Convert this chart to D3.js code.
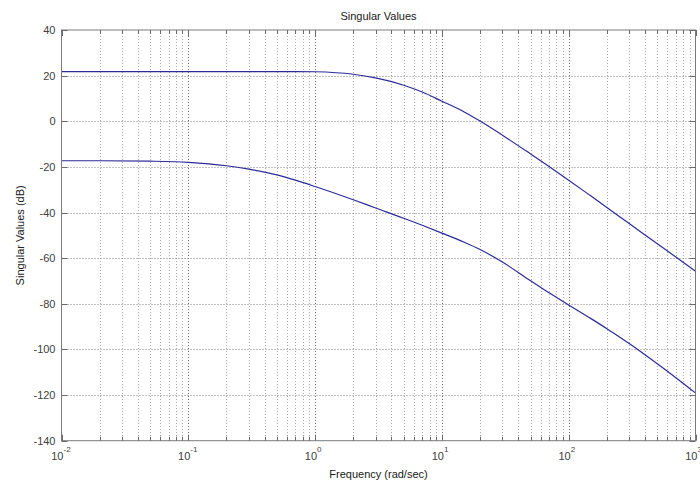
<!DOCTYPE html>
<html>
<head>
<meta charset="utf-8">
<script src="https://cdn.jsdelivr.net/npm/d3@7"></script>
<style>
html,body{margin:0;padding:0;background:#fff;overflow:hidden;}
text{font-family:"Liberation Sans",Arial,sans-serif;}
</style>
</head>
<body>
<svg id="c" width="700" height="485"></svg>
<script>
const freq = [0.01,0.02,0.05,0.1,0.2,0.3,0.5,0.7,1,2,3,5,7,10,15,20,30,50,70,100,150,200,300,500,700,1000];
const sv1  = [21.8,21.8,21.8,21.8,21.8,21.8,21.8,21.8,21.7,20.6,19.0,15.8,12.8,8.8,4.1,0.1,-6.1,-14.3,-19.8,-25.8,-32.8,-37.8,-44.8,-53.7,-59.5,-65.7];
const sv2  = [-17.3,-17.3,-17.5,-18.0,-19.5,-21.0,-23.5,-25.8,-28.6,-34.4,-38.0,-42.5,-45.6,-49.0,-53.0,-56.2,-61.7,-69.9,-75.2,-80.5,-86.5,-90.9,-97.4,-106.3,-112.4,-119.1];
const yTicks = [40,20,0,-20,-40,-60,-80,-100,-120,-140];
const xDecades = [-2,-1,0,1,2,3];
const titleText = "Singular Values";
const xLabel = "Frequency (rad/sec)";
const yLabel = "Singular Values (dB)";

const L=61.5, R=695.5, T=30, B=440.7;
const svg = d3.select("#c");
const x = d3.scaleLog().domain([0.01,1000]).range([L,R]);
const y = d3.scaleLinear().domain([-140,40]).range([B,T]);

const minor = [];
xDecades.slice(0,-1).forEach(d=>{ for(let k=2;k<=9;k++) minor.push(k*Math.pow(10,d)); });
const major = xDecades.map(d=>Math.pow(10,d));

const g = svg.append("g");
g.selectAll(".gxm").data(minor).join("line")
  .attr("x1",d=>Math.round(x(d))+0.5).attr("x2",d=>Math.round(x(d))+0.5)
  .attr("y1",T).attr("y2",B)
  .attr("stroke","#a8a8a8").attr("stroke-width",1).attr("stroke-dasharray","1,2");
g.selectAll(".gxM").data(major.slice(1,-1)).join("line")
  .attr("x1",d=>Math.round(x(d))+0.5).attr("x2",d=>Math.round(x(d))+0.5)
  .attr("y1",T).attr("y2",B)
  .attr("stroke","#707070").attr("stroke-width",1).attr("stroke-dasharray","1,2");
g.selectAll(".gy").data(yTicks.slice(1,-1)).join("line")
  .attr("x1",L).attr("x2",R)
  .attr("y1",d=>Math.round(y(d))+0.5).attr("y2",d=>Math.round(y(d))+0.5)
  .attr("stroke","#808080").attr("stroke-width",1).attr("stroke-dasharray","1,2");

const line = d3.line().x((d,i)=>x(freq[i])).y(d=>y(d)).curve(d3.curveMonotoneX);
[sv1,sv2].forEach(s=>{
  svg.append("path").datum(s).attr("d",line)
    .attr("fill","none").attr("stroke","#2b2b9c").attr("stroke-width",1.2);
});

svg.append("rect").attr("x",L).attr("y",T).attr("width",R-L).attr("height",B-T)
  .attr("fill","none").attr("stroke","#7a7a7a").attr("stroke-width",1);

const tk = svg.append("g").attr("stroke","#6a6a6a").attr("stroke-width",1);
major.forEach(d=>{
  const xx=Math.round(x(d))+0.5;
  tk.append("line").attr("x1",xx).attr("x2",xx).attr("y1",B).attr("y2",B-6);
  tk.append("line").attr("x1",xx).attr("x2",xx).attr("y1",T).attr("y2",T+6);
});
minor.forEach(d=>{
  const xx=Math.round(x(d))+0.5;
  tk.append("line").attr("x1",xx).attr("x2",xx).attr("y1",B).attr("y2",B-4);
  tk.append("line").attr("x1",xx).attr("x2",xx).attr("y1",T).attr("y2",T+4);
});
yTicks.forEach(v=>{
  const yy=Math.round(y(v))+0.5;
  tk.append("line").attr("x1",L).attr("x2",L+6).attr("y1",yy).attr("y2",yy);
  tk.append("line").attr("x1",R).attr("x2",R-6).attr("y1",yy).attr("y2",yy);
});

svg.selectAll(".yl").data(yTicks).join("text")
  .attr("x",L-6).attr("y",d=>y(d)+4).attr("text-anchor","end")
  .attr("font-size",11).attr("fill","#404040").text(d=>d);

xDecades.forEach(d=>{
  const xx=x(Math.pow(10,d));
  svg.append("text").attr("x",xx+2).attr("y",460).attr("text-anchor","end")
    .attr("font-size",11).attr("fill","#404040").text("10");
  svg.append("text").attr("x",xx+2).attr("y",452).attr("text-anchor","start")
    .attr("font-size",8).attr("fill","#404040").text(d);
});

svg.append("text").attr("x",(L+R)/2).attr("y",20).attr("text-anchor","middle")
  .attr("font-size",11).attr("fill","#202020").text(titleText);
svg.append("text").attr("x",(L+R)/2).attr("y",478).attr("text-anchor","middle")
  .attr("font-size",11).attr("fill","#202020").text(xLabel);
svg.append("text").attr("transform",`translate(24,${(T+B)/2}) rotate(-90)`)
  .attr("text-anchor","middle").attr("font-size",11).attr("fill","#202020").text(yLabel);
</script>
</body>
</html>
